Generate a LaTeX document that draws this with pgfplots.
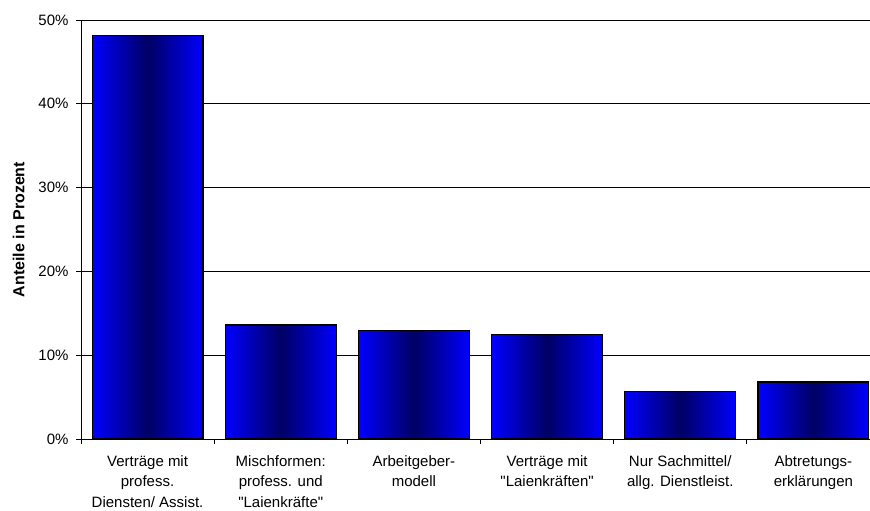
\documentclass[border=0pt]{standalone}
\usepackage{pgfplots}
\pgfplotsset{compat=1.18}
\usepackage{fontspec}
\setmainfont{Liberation Sans}

\definecolor{barblue}{RGB}{0,0,255}
\definecolor{barnavy}{RGB}{0,0,100}

\pgfplotsset{
  pillar/.style={ybar, bar width=0.833, bar shift=0pt, draw=black,
    line width=1.1pt, left color=barblue, right color=barblue,
    middle color=barnavy},
}

\begin{document}
\begin{tikzpicture}
\begin{axis}[
  at={(0,0)}, anchor=south west,
  scale only axis,
  width=799pt, height=419pt,
  xmin=0.5, xmax=6.5,
  ymin=0, ymax=50,
  axis x line*=bottom,
  axis y line*=left,
  axis line style={line width=0.9pt, black},
  ytick={0,10,20,30,40,50},
  yticklabels={0\%,10\%,20\%,30\%,40\%,50\%},
  ymajorgrids,
  grid style={black, line width=0.8pt},
  xtick={1,2,3,4,5,6},
  xticklabels={
    Verträge mit\\profess.\\Diensten/ Assist.,
    Mischformen:\\profess. und\\\textquotedbl Laienkräfte\textquotedbl,
    Arbeitgeber-\\modell,
    Verträge mit\\\textquotedbl Laienkräften\textquotedbl,
    Nur Sachmittel/\\allg. Dienstleist.,
    Abtretungs-\\erklärungen},
  minor xtick={0.5,1.5,2.5,3.5,4.5,5.5,6.5},
  major x tick style={draw=none},
  minor x tick style={black, line width=0.8pt},
  y tick style={black, line width=0.8pt},
  tick align=outside,
  major tick length=5pt,
  minor tick length=5pt,
  tick label style={font=\fontsize{15}{20.5}\selectfont},
  xticklabel style={align=center, anchor=north, yshift=-8pt},
  yticklabel style={xshift=-4pt},
  ylabel={\bfseries Anteile in Prozent},
  ylabel style={font=\fontsize{16}{18}\selectfont, at={(ticklabel cs:0.5)}, anchor=south, yshift=7pt},
  clip=false,
]
% one plot per category so each bar gets its own shading
\addplot[pillar] coordinates {(1,48.1)};
\addplot[pillar] coordinates {(2,13.6)};
\addplot[pillar] coordinates {(3,13.0)};
\addplot[pillar] coordinates {(4,12.5)};
\addplot[pillar] coordinates {(5,5.7)};
\addplot[pillar] coordinates {(6,6.8)};
\end{axis}
\pgfresetboundingbox
\path[use as bounding box] (-81pt,-72pt) rectangle (789pt,439pt);
\end{tikzpicture}
\end{document}
